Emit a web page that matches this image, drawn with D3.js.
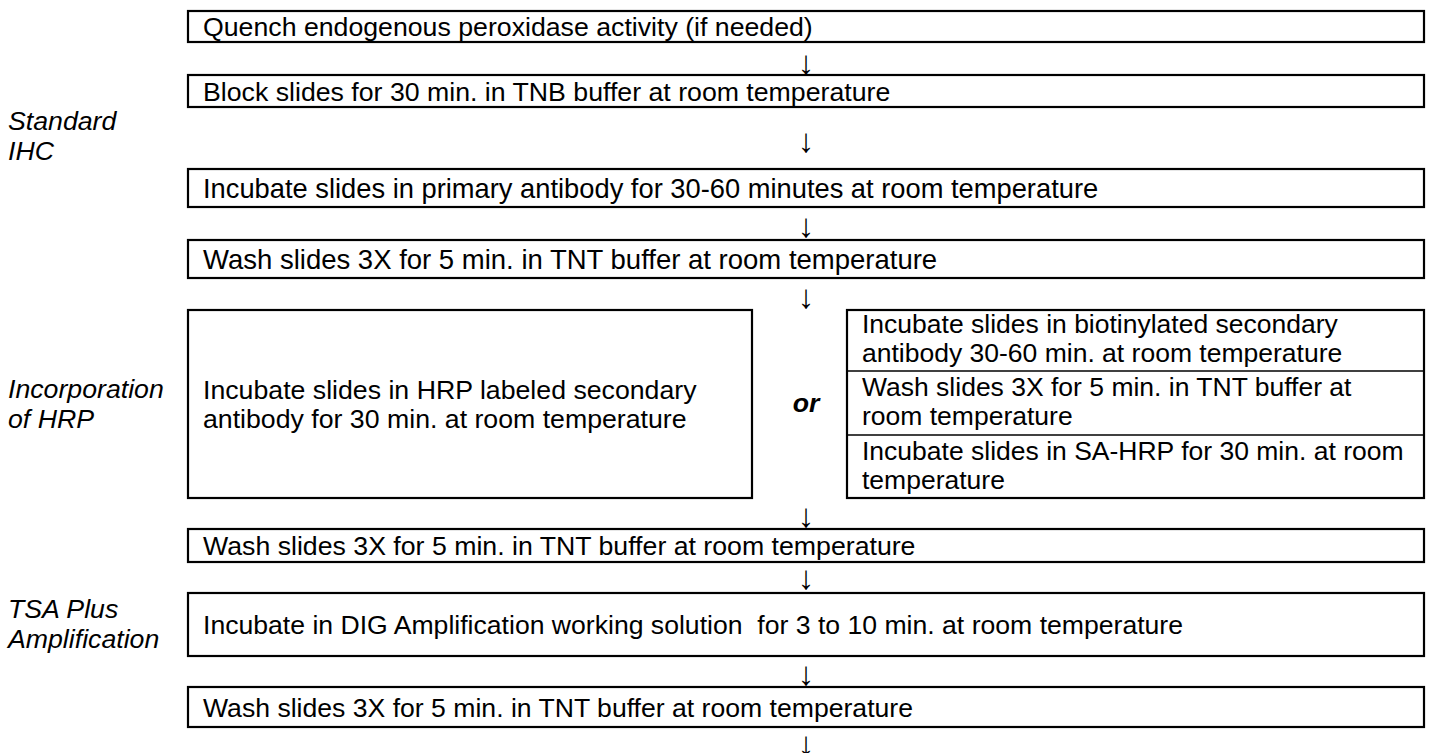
<!DOCTYPE html>
<html>
<head>
<meta charset="utf-8">
<script src="https://d3js.org/d3.v7.min.js"></script>
<style>
  body { margin: 0; background: #ffffff; }
  text { font-family: "Liberation Sans", Arial, sans-serif; fill: #000; }
</style>
</head>
<body>
<div id="chart"></div>
<script>
// ---- content of the flowchart ----
var sections = [["Standard", "IHC"], ["Incorporation", "of HRP"], ["TSA Plus", "Amplification"]];

var steps = [
  "Quench endogenous peroxidase activity (if needed)",
  "Block slides for 30 min. in TNB buffer at room temperature",
  "Incubate slides in primary antibody for 30-60 minutes at room temperature",
  "Wash slides 3X for 5 min. in TNT buffer at room temperature",
  null, // the HRP choice row
  "Wash slides 3X for 5 min. in TNT buffer at room temperature",
  "Incubate in DIG Amplification working solution  for 3 to 10 min. at room temperature",
  "Wash slides 3X for 5 min. in TNT buffer at room temperature"
];

var directOption = ["Incubate slides in HRP labeled secondary", "antibody for 30 min. at room temperature"];

var indirectOption = [
  ["Incubate slides in biotinylated secondary", "antibody 30-60 min. at room temperature"],
  ["Wash slides 3X for 5 min. in TNT buffer at", "room temperature"],
  ["Incubate slides in SA-HRP for 30 min. at room", "temperature"]
];

var joiner = "or";
var arrowGlyph = "\u2193";

// ---- layout ----
var W = 1431, H = 753;
var fs = 26.7;
var rowTop    = [11, 75, 169, 240, 310, 529, 593, 687];
var rowBottom = [42, 107, 207, 278, 498, 562, 656, 727];
var rowFont   = [26.7, 26.7, 27.3, 27.5, 26.7, 26.7, 26.6, 26.6];
var arrowMid  = [62, 140, 225, 296, 515, 577, 673, 743];
var cellTop   = [310, 371, 435];
var sectionBase = [130, 398, 618];

var x = d3.scaleLinear().domain([0, 1]).range([188, 1424]);
var xLeftEnd = 752, xRightStart = 847, xArrow = 806, pad = 15;

var svg = d3.select("#chart").append("svg")
    .attr("width", W)
    .attr("height", H);

// section labels on the left
var sec = svg.append("g").selectAll("text")
  .data(sections)
  .enter().append("text")
    .attr("x", 8)
    .attr("y", function(d, i) { return sectionBase[i]; })
    .style("font-size", fs + "px")
    .style("font-style", "italic");
sec.selectAll("tspan")
  .data(function(d) { return d; })
  .enter().append("tspan")
    .attr("x", 8)
    .attr("dy", function(d, i) { return i ? 30 : 0; })
    .text(function(d) { return d; });

// single-line steps
var rows = steps.map(function(s, i) { return {text: s, i: i}; }).filter(function(d) { return d.text; });

var g = svg.append("g");
g.selectAll("rect.step")
  .data(rows)
  .enter().append("rect")
    .attr("class", "step")
    .attr("x", x(0))
    .attr("y", function(d) { return rowTop[d.i]; })
    .attr("width", x(1) - x(0))
    .attr("height", function(d) { return rowBottom[d.i] - rowTop[d.i]; })
    .attr("fill", "none")
    .attr("stroke", "#000")
    .attr("stroke-width", 2.2);

g.selectAll("text.step")
  .data(rows)
  .enter().append("text")
    .attr("class", "step")
    .attr("x", x(0) + pad)
    .attr("y", function(d) { return (rowTop[d.i] + rowBottom[d.i]) / 2 + 0.36 * rowFont[d.i]; })
    .style("font-size", function(d) { return rowFont[d.i] + "px"; })
    .style("white-space", "pre")
    .text(function(d) { return d.text; });

// the choice row
var splitIdx = steps.indexOf(null);
var splitTop = rowTop[splitIdx], splitBot = rowBottom[splitIdx];

g.append("rect")
  .attr("x", x(0)).attr("y", splitTop)
  .attr("width", xLeftEnd - x(0)).attr("height", splitBot - splitTop)
  .attr("fill", "none").attr("stroke", "#000").attr("stroke-width", 2.2);

g.append("text")
  .attr("y", (splitTop + splitBot) / 2 - 15 + 0.36 * fs)
  .style("font-size", fs + "px")
  .selectAll("tspan")
  .data(directOption)
  .enter().append("tspan")
    .attr("x", x(0) + pad)
    .attr("dy", function(d, i) { return i ? 29 : 0; })
    .text(function(d) { return d; });

g.append("text")
  .attr("x", xArrow)
  .attr("y", (splitTop + splitBot) / 2 + 0.36 * fs - 2)
  .attr("text-anchor", "middle")
  .style("font-size", fs + "px")
  .style("font-weight", "bold")
  .style("font-style", "italic")
  .text(joiner);

// stacked cells of the indirect option
var cells = g.selectAll("g.cell")
  .data(indirectOption)
  .enter().append("g")
    .attr("class", "cell");
cells.filter(function(d, i) { return i > 0; })
  .append("line")
    .attr("x1", xRightStart).attr("x2", x(1))
    .attr("y1", function(d, i) { return cellTop[i + 1]; })
    .attr("y2", function(d, i) { return cellTop[i + 1]; })
    .attr("stroke", "#000").attr("stroke-width", 1.3);
cells.append("text")
  .attr("y", function(d, i) { return cellTop[i] + (i ? 25 : 23); })
  .style("font-size", "26.5px")
  .selectAll("tspan")
  .data(function(d) { return d; })
  .enter().append("tspan")
    .attr("x", xRightStart + pad)
    .attr("dy", function(d, i) { return i ? 29 : 0; })
    .text(function(d) { return d; });

g.append("rect")
  .attr("x", xRightStart).attr("y", splitTop)
  .attr("width", x(1) - xRightStart).attr("height", splitBot - splitTop)
  .attr("fill", "none").attr("stroke", "#000").attr("stroke-width", 2.2);

// arrows between steps
svg.append("g").selectAll("text")
  .data(arrowMid)
  .enter().append("text")
    .attr("x", xArrow)
    .attr("y", function(d) { return d; })
    .attr("text-anchor", "middle")
    .attr("dominant-baseline", "central")
    .style("font-size", "33px")
    .text(arrowGlyph);
</script>
</body>
</html>
